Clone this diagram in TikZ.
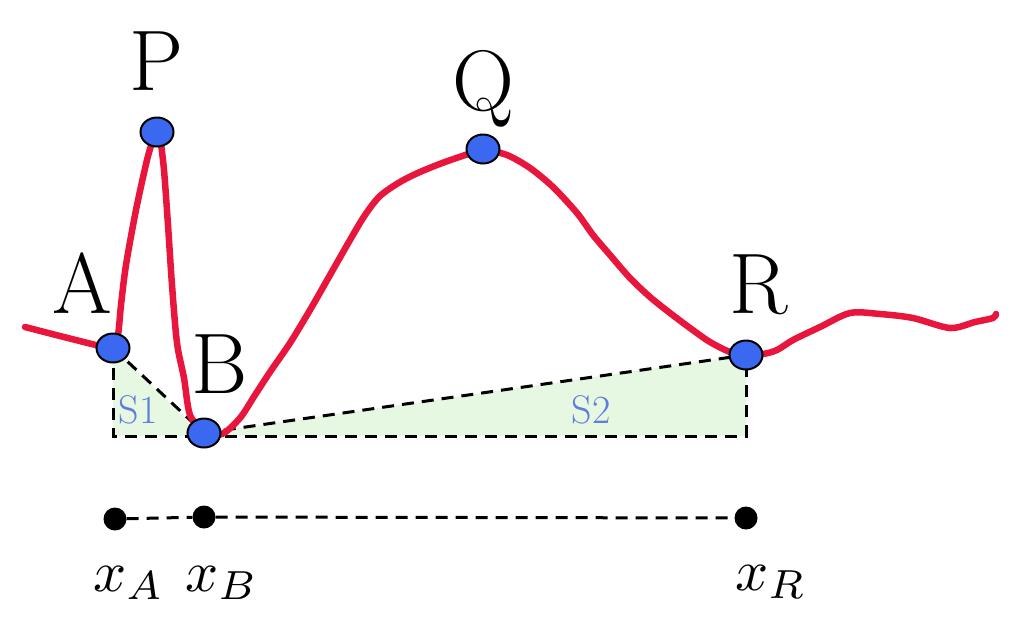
\documentclass[tikz,border=0pt]{standalone}
\usepackage{graphicx}
\usetikzlibrary{shapes.geometric}
\definecolor{redline}{RGB}{232,22,60}
\definecolor{dotblue}{RGB}{58,104,240}
\definecolor{greenfill}{RGB}{230,248,226}
\definecolor{slabel}{RGB}{95,125,220}
\newcommand{\bigx}[1]{\scalebox{5.8}{$x_{#1}$}}
\begin{document}
\begin{tikzpicture}[x=1pt,y=-1pt,
 dot/.style={ellipse,draw=black,line width=2pt,fill=dotblue,minimum width=33pt,minimum height=29pt,inner sep=0pt},
 bdot/.style={circle,fill=black,minimum size=23pt,inner sep=0pt},
 curve/.style={redline,line width=6.5pt,line cap=round,line join=round},
 dsh/.style={black,line width=3pt,dash pattern=on 12pt off 8pt},
 big/.style={font=\fontsize{86}{90}\selectfont,anchor=base,inner sep=0pt},
 slab/.style={font=\fontsize{40}{44}\selectfont,text=slabel,anchor=base,inner sep=0pt},
 xlab/.style={anchor=base west,inner sep=0pt}]
\useasboundingbox (0,0) rectangle (1024,625);
% key positions
\coordinate (cA) at (113,348);
\coordinate (cP) at (157,132);
\coordinate (cB) at (204,433);
\coordinate (cQ) at (483,149);
\coordinate (cR) at (746,355);
\coordinate (fA) at (113,436);
\coordinate (fB) at (204,436);
\coordinate (fR) at (746,436);
% shaded areas
\fill[greenfill] (cA) -- (fA) -- (fB) -- cycle;
\fill[greenfill] (cB) -- (cR) -- (fR) -- (fB) -- cycle;
% dashed lines
\draw[dsh] (cA) -- (fA) -- (fR) -- (cR);
\draw[dsh] (cA) -- (cB);
\draw[dsh] (cB) -- (cR);
% red curve
\draw[curve] plot[smooth,tension=0.5] coordinates {(25,327) (60,336) (100,346) (cA)};
\draw[curve] plot[smooth,tension=0.5] coordinates {(cA) (118,335) (121,305) (126,265) (136,210) (147,160) (154,136)};
\draw[curve] plot[smooth,tension=0.5] coordinates {(160,136) (164,170) (168,225) (172,285) (177,343) (184,378) (190,415) (cB)};
\draw[curve] plot[smooth,tension=0.5] coordinates {(cB) (222,434) (240,418) (255,395) (270,372) (290,343) (310,310) (330,275) (350,240) (365,215) (380,196) (400,182) (420,172) (445,162) (cQ)};
\draw[curve] plot[smooth,tension=0.5] coordinates {(cQ) (507,155) (530,168) (553,187) (577,213) (593,235) (610,255) (630,278) (650,297) (670,313) (690,328) (710,342) (730,352) (cR)};
\draw[curve] plot[smooth,tension=0.5] coordinates {(cR) (763,354) (777,350) (793,340) (820,327) (850,313) (880,314) (913,318) (950,328) (975,322) (993,318) (996,314)};
% dots
\node[dot] (A) at (cA) {};
\node[dot] (P) at (cP) {};
\node[dot] (B) at (cB) {};
\node[dot] (Q) at (cQ) {};
\node[dot] (R) at (cR) {};
% labels
\node[big] (lA) at (82,313) {A};
\node[big] (lP) at (157,90) {P};
\node[big] (lB) at (220,393) {B};
\node[big] (lQ) at (483,110) {Q};
\node[big] (lR) at (759,313) {R};
\node[slab] (s1) at (138,423) {S1};
\node[slab] (s2) at (591,423) {S2};
% x axis
\node[bdot] (xa) at (115,519) {};
\node[bdot] (xb) at (204,517) {};
\node[bdot] (xr) at (746,518) {};
\draw[dsh] (xa) -- (xb) -- (xr);
\node[xlab] (lxa) at (93,591) {\bigx{A}};
\node[xlab] (lxb) at (185,591) {\bigx{B}};
\node[xlab] (lxr) at (735,590) {\bigx{R}};
\end{tikzpicture}
\end{document}
